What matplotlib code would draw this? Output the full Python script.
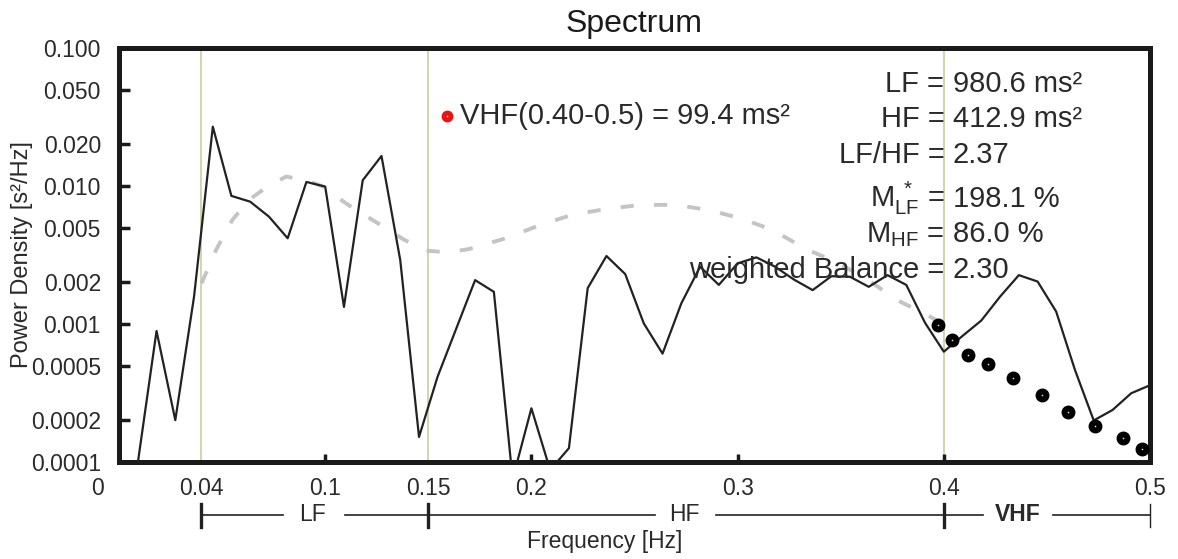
import numpy as np
import matplotlib
matplotlib.use("Agg")
import matplotlib.pyplot as plt
from matplotlib.transforms import ScaledTranslation

plt.rcParams['font.family'] = ['Liberation Sans', 'DejaVu Sans']
plt.rcParams['mathtext.fontset'] = 'custom'
plt.rcParams['mathtext.rm'] = 'Liberation Sans'
plt.rcParams['mathtext.it'] = 'Liberation Sans:italic'
plt.rcParams['mathtext.bf'] = 'Liberation Sans:bold'

# spectrum (periodogram) values
freq = [0.0091, 0.0182, 0.0273, 0.0364, 0.0455, 0.0545, 0.0636, 0.0727, 0.0818, 0.0909,
        0.1000, 0.1091, 0.1182, 0.1273, 0.1364, 0.1455, 0.1545, 0.1636, 0.1727, 0.1818,
        0.1909, 0.2000, 0.2091, 0.2182, 0.2273, 0.2364, 0.2455, 0.2545, 0.2636, 0.2727,
        0.2818, 0.2909, 0.3000, 0.3091, 0.3182, 0.3273, 0.3364, 0.3455, 0.3545, 0.3636,
        0.3727, 0.3818, 0.3909, 0.4000, 0.4091, 0.4182, 0.4273, 0.4364, 0.4455, 0.4545,
        0.4636, 0.4727, 0.4818, 0.4909, 0.5000]
power = [0.000098, 0.00089, 0.000201, 0.00158, 0.0269, 0.00848, 0.0077, 0.0060, 0.00418, 0.0107,
         0.0099, 0.00133, 0.0110, 0.0165, 0.0029, 0.000152, 0.000415, 0.00093, 0.00208, 0.00171,
         0.000075, 0.000245, 0.0000875, 0.000126, 0.00182, 0.00311, 0.0023, 0.00101, 0.00061, 0.00141,
         0.0026, 0.00192, 0.00275, 0.00304, 0.0026, 0.0021, 0.00176, 0.00222, 0.0022, 0.00186,
         0.00226, 0.00192, 0.00102, 0.00063, 0.00082, 0.00106, 0.00158, 0.00226, 0.00203, 0.00123,
         0.000465, 0.0002, 0.000238, 0.000315, 0.00036]

# smooth (model) spectrum, dashed gray
model_freq = [0.040, 0.047, 0.055, 0.063, 0.072, 0.081, 0.091, 0.099, 0.110, 0.118,
              0.128, 0.138, 0.149, 0.160, 0.170, 0.188, 0.204, 0.220, 0.236, 0.253,
              0.270, 0.286, 0.302, 0.317, 0.333, 0.348, 0.363, 0.377, 0.390, 0.400]
model_power = [0.00197, 0.00343, 0.00568, 0.00793, 0.0099, 0.0117, 0.0110, 0.0099, 0.0075, 0.0063,
               0.0051, 0.0041, 0.0034, 0.0033, 0.0035, 0.0042, 0.0052, 0.0062, 0.0068, 0.0073,
               0.0073, 0.0067, 0.0058, 0.0048, 0.0035, 0.0028, 0.0021, 0.0015, 0.0012, 0.00100]

# VHF dots
vhf_freq = [0.3973, 0.4038, 0.4119, 0.4216, 0.4337, 0.4478, 0.4604, 0.4733, 0.4870, 0.4959]
vhf_power = [0.00098, 0.00077, 0.000596, 0.000513, 0.000403, 0.000306, 0.000232, 0.000182, 0.000149, 0.000124]

# red marker + label
marker_freq = 0.159
marker_power = 0.032
marker_text = "VHF(0.40-0.5) = 99.4 ms²"

band_edges = [0.04, 0.15, 0.4]
band_names = ["LF", "HF", "VHF"]
band_label_x = [0.094, 0.274, 0.436]

stats_names = ["LF =", "HF =", "LF/HF =", r"M$_{\mathrm{LF}}^{\ *}$ =", r"M$_{\mathrm{HF}}$ =", "weighted Balance ="]
stats_values = ["980.6 ms²", "412.9 ms²", "2.37", "198.1 %", "86.0 %", "2.30"]

xticks = [0, 0.04, 0.1, 0.15, 0.2, 0.3, 0.4, 0.5]
xtick_labels = ["0", "0.04", "0.1", "0.15", "0.2", "0.3", "0.4", "0.5"]
yticks = [0.0001, 0.0002, 0.0005, 0.001, 0.002, 0.005, 0.01, 0.02, 0.05, 0.1]
ytick_labels = ["0.0001", "0.0002", "0.0005", "0.001", "0.002", "0.005", "0.010", "0.020", "0.050", "0.100"]

txt_col = '#2a2a2a'

fig = plt.figure(figsize=(11.78, 5.59), dpi=100)
ax = fig.add_axes([119/1178, 1 - 462/559, 1031/1178, 414/559])

for b in band_edges:
    ax.axvline(b, color='#c8c897', lw=1.1, zorder=1)

ax.plot(model_freq, model_power, color='#c4c4c4', lw=2.8, dashes=(3.4, 5.2), zorder=2)
ax.plot(freq, power, color='#222222', lw=1.6, zorder=3)
ax.plot(vhf_freq, vhf_power, 'o', color='black', ms=9, zorder=4, clip_on=False)
ax.plot(vhf_freq, vhf_power, '+', color='#dddddd', ms=2, mew=0.4, zorder=5, clip_on=False)
ax.plot([marker_freq], [marker_power], 'o', color='#ee1111', ms=7.5, zorder=4)
ax.plot([marker_freq], [marker_power], '+', color='#ffcccc', ms=2, mew=0.4, zorder=5)
ax.text(marker_freq + 0.0065, marker_power, marker_text, fontsize=21, color=txt_col,
        va='center', ha='left')

ax.set_yscale('log')
ax.set_xlim(0, 0.5)
ax.set_ylim(0.0001, 0.1)
ax.set_yticks(yticks)
ax.set_yticklabels(ytick_labels)
ax.minorticks_off()
ax.set_xticks(xticks)
ax.set_xticklabels(xtick_labels)
ax.tick_params(axis='y', direction='in', length=8, width=2.5, labelsize=16.5, pad=13, colors='#1a1a1a')
ax.tick_params(axis='x', direction='in', length=6, width=2.5, labelsize=16.5, pad=11, colors='#1a1a1a')
for lab in ax.get_yticklabels() + ax.get_xticklabels():
    lab.set_color(txt_col)
for i, t in enumerate(ax.xaxis.get_major_ticks()):
    if xtick_labels[i] in ("0", "0.04", "0.15", "0.5"):
        t.tick1line.set_visible(False)
ax.get_xticklabels()[0].set_transform(
    ax.get_xticklabels()[0].get_transform() + ScaledTranslation(-0.22, 0, fig.dpi_scale_trans))

for s in ax.spines.values():
    s.set_linewidth(3.6)
    s.set_color('#1a1a1a')

# stats block
rows_y = [0.8937, 0.8092, 0.7222, 0.6159, 0.5314, 0.4444]
for name, val, yy in zip(stats_names, stats_values, rows_y):
    ax.text(0.8005, yy, name, transform=ax.transAxes, ha='right', va='baseline',
            fontsize=21, color=txt_col, zorder=6)
    ax.text(0.8085, yy, val, transform=ax.transAxes, ha='left', va='baseline',
            fontsize=21, color=txt_col, zorder=6)

# frequency band bracket below the axis
tr = ax.get_xaxis_transform()
yb = -0.128
segs = [(0.04, 0.0795), (0.1096, 0.26), (0.2895, 0.4190), (0.4530, 0.5)]
for a, b in segs:
    ax.plot([a, b], [yb, yb], color='#222222', lw=1.2, transform=tr, clip_on=False)
for b in band_edges + [0.5]:
    ax.plot([b, b], [yb + 0.026, yb - 0.030], color='#222222',
            lw=2.4 if b < 0.5 else 1.0, transform=tr, clip_on=False)
for name, xx in zip(band_names, band_label_x):
    ax.text(xx, yb, name, transform=tr, ha='center', va='center', fontsize=16.5,
            color=txt_col, fontweight='bold' if name == 'VHF' else 'normal')

ax.text(0.2357, -0.191, "Frequency [Hz]", transform=tr, ha='center', va='center',
        fontsize=16.5, color=txt_col)
ax.text(-0.094, 0.5, "Power Density [s²/Hz]", transform=ax.transAxes, rotation=90,
        ha='center', va='center', fontsize=17, color=txt_col)
fig.text(634/1178, 1 - 24/559, "Spectrum", ha='center', va='center', fontsize=23, color='#1a1a1a')

fig.savefig("out.png", dpi=100)
